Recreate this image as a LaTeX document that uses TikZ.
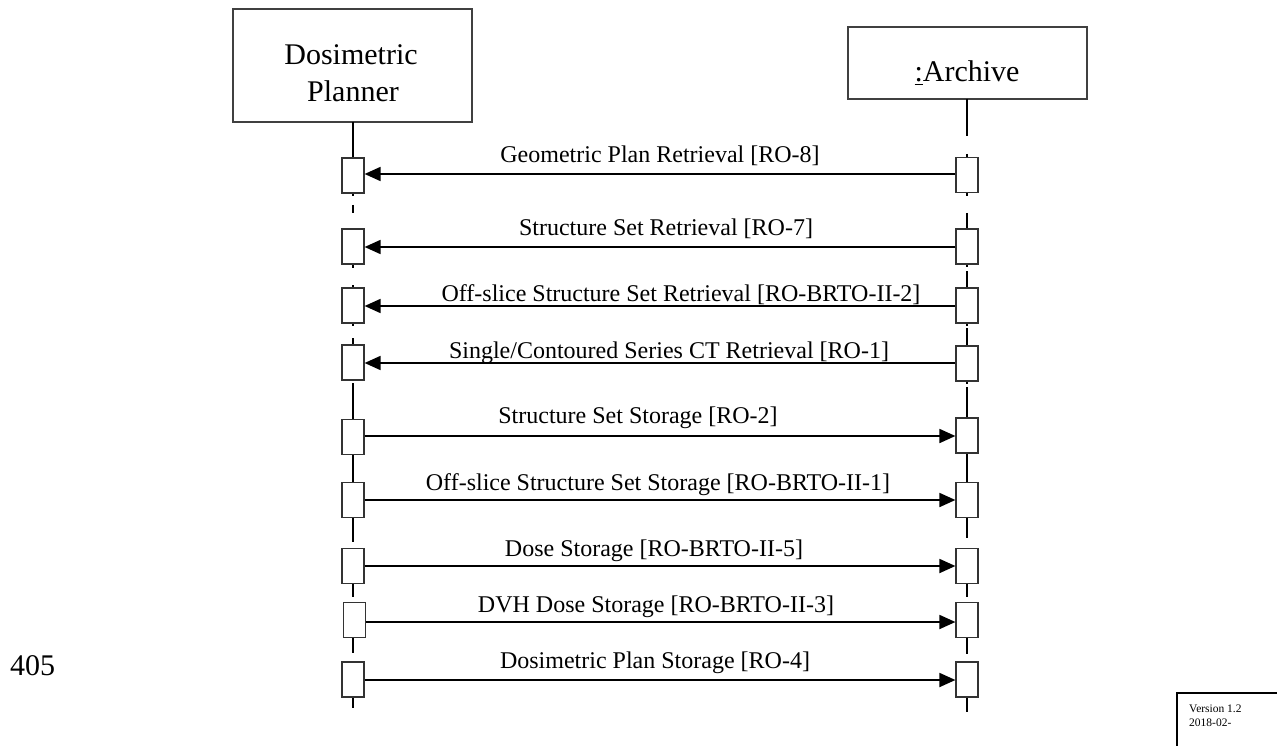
\documentclass[tikz,border=0pt]{standalone}
\usepackage{fontspec}
\setmainfont{Liberation Serif}
\usetikzlibrary{arrows.meta}
\begin{document}
\begin{tikzpicture}[x=1pt,y=-1pt,
  actorbox/.style={draw=black!75, line width=1.2pt, fill=white, inner sep=0pt},
  actortext/.style={font=\fontsize{30}{33}\selectfont, anchor=base, inner sep=0pt},
  act/.style={draw=black!80, line width=1.2pt, fill=white, minimum width=22pt, minimum height=35pt, inner sep=0pt},
  life/.style={line width=2.2pt},
  msg/.style={line width=1.8pt, -{Triangle[length=16pt,width=14pt]}},
  lbl/.style={font=\fontsize{24}{26}\selectfont, anchor=base, inner sep=0pt}]
\useasboundingbox (0,0) rectangle (1277,746);

% actor boxes
\node[actorbox, minimum width=239pt, minimum height=113pt] (planner) at (352.5,65.5) {};
\node[actortext] (plannerA) at (351,65) {Dosimetric};
\node[actortext] (plannerB) at (353,102) {Planner};
\node[actorbox, minimum width=239pt, minimum height=72pt] (archive) at (967.5,63) {};
\node[actortext] (archiveT) at (967,82) {\underline{:}Archive};

% lifelines planner
\foreach \a/\b in {122/158, 193/196, 205/213, 264/268, 285/288, 323/326, 338/345, 383/419, 455/482, 518/542, 584/597, 638/653, 697/708}
  \draw[life] (353,\a) -- (353,\b);
% lifelines archive
\foreach \a/\b in {99/136, 154/157, 193/196, 213/229, 264/267, 271/288, 323/326, 328/346, 381/384, 387/418, 453/482, 518/538, 584/597, 638/654, 697/712}
  \draw[life] (967,\a) -- (967,\b);

% activation boxes
\node[act] (p1) at (353,175.5) {};
\node[act] (p2) at (353,246.5) {};
\node[act] (p3) at (353,305.5) {};
\node[act] (p4) at (353,362.5) {};
\node[act] (p5) at (353,437) {};
\node[act] (p6) at (353,500) {};
\node[act] (p7) at (353,566) {};
\node[act] (p8) at (354.5,620) {};
\node[act] (p9) at (353,679.5) {};

\node[act] (a1) at (967,175) {};
\node[act] (a2) at (967,246.5) {};
\node[act] (a3) at (967,305.5) {};
\node[act] (a4) at (967,363.5) {};
\node[act] (a5) at (967,435.5) {};
\node[act] (a6) at (967,500) {};
\node[act] (a7) at (967,566) {};
\node[act] (a8) at (967,620) {};
\node[act] (a9) at (967,679.5) {};

% messages
\draw[msg] (a1.west |- 0,174) -- (p1.east |- 0,174);
\draw[msg] (a2.west |- 0,247) -- (p2.east |- 0,247);
\draw[msg] (a3.west |- 0,306) -- (p3.east |- 0,306);
\draw[msg] (a4.west |- 0,363) -- (p4.east |- 0,363);
\draw[msg] (p5.east |- 0,436) -- (a5.west |- 0,436);
\draw[msg] (p6.east |- 0,500) -- (a6.west |- 0,500);
\draw[msg] (p7.east |- 0,566) -- (a7.west |- 0,566);
\draw[msg] (p8.east |- 0,622) -- (a8.west |- 0,622);
\draw[msg] (p9.east |- 0,680) -- (a9.west |- 0,680);

% labels
\node[lbl] (l1) at (660,163) {Geometric Plan Retrieval [RO-8]};
\node[lbl] (l2) at (666,236) {Structure Set Retrieval [RO-7]};
\node[lbl] (l3) at (681,301) {Off-slice Structure Set Retrieval [RO-BRTO-II-2]};
\node[lbl] (l4) at (669,358) {Single/Contoured Series CT Retrieval [RO-1]};
\node[lbl] (l5) at (638,423) {Structure Set Storage [RO-2]};
\node[lbl] (l6) at (658,490) {Off-slice Structure Set Storage [RO-BRTO-II-1]};
\node[lbl] (l7) at (654,556) {Dose Storage [RO-BRTO-II-5]};
\node[lbl] (l8) at (656,612) {DVH Dose Storage [RO-BRTO-II-3]};
\node[lbl] (l9) at (655,668) {Dosimetric Plan Storage [RO-4]};

% page number and version box
\node[font=\fontsize{30}{33}\selectfont, anchor=base west, inner sep=0pt] (pagenum) at (10,675) {405};
\draw[line width=1.5pt] (1177,746) -- (1177,693) -- (1277,693);
\node[font=\fontsize{11.5}{14}\selectfont, anchor=north west, align=left, inner sep=0pt] (version) at (1189,705) {Version 1.2\\2018-02-};
\end{tikzpicture}
\end{document}
